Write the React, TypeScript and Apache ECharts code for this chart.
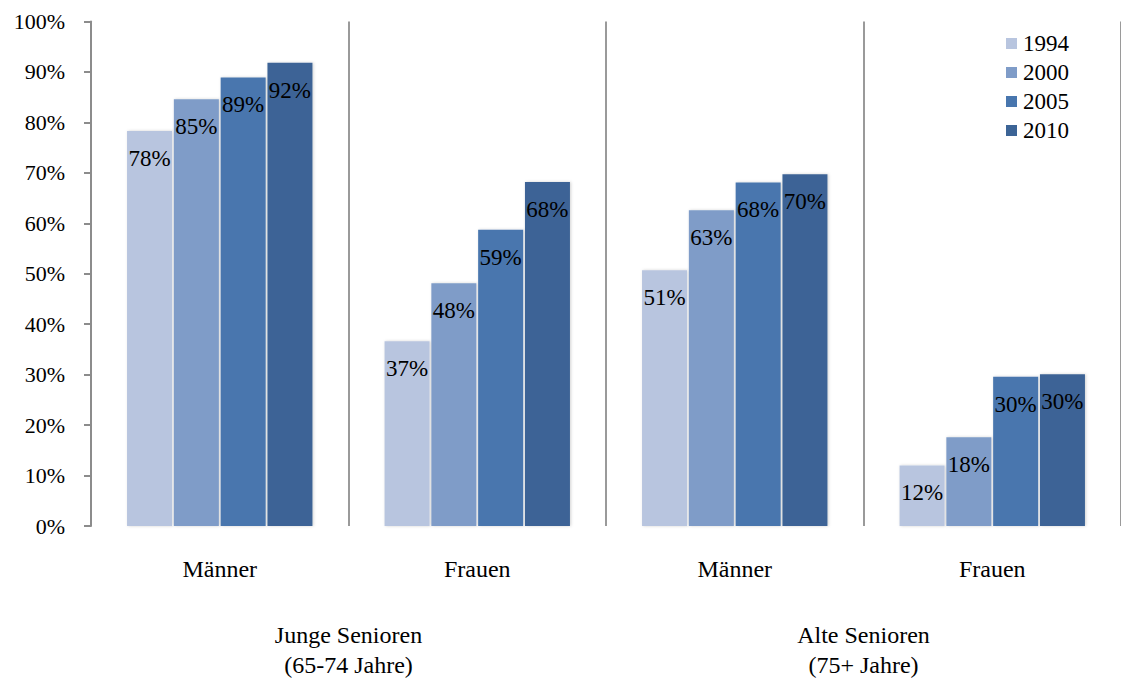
import React, { useEffect, useRef } from "react";
import * as echarts from "echarts";

// Share of seniors (in %) by age group, sex and survey year
const categories = ["Männer", "Frauen", "Männer", "Frauen"];
const groups = ["Junge Senioren\n(65-74 Jahre)", "Alte Senioren\n(75+ Jahre)"];
const years = ["1994", "2000", "2005", "2010"];

const values1994 = [78.3, 36.6, 50.7, 12.0];
const values2000 = [84.6, 48.1, 62.6, 17.6];
const values2005 = [88.9, 58.7, 68.1, 29.6];
const values2010 = [91.8, 68.2, 69.7, 30.1];

const seriesValues = [values1994, values2000, values2005, values2010];
const colors = ["#b8c5df", "#7f9cc8", "#4876ae", "#3c6496"];

const FONT = "'Liberation Serif', 'Times New Roman', serif";

export default function App() {
  const ref = useRef<HTMLDivElement>(null);

  useEffect(() => {
    if (!ref.current) return;
    document.body.style.margin = "0";
    document.body.style.overflow = "hidden";
    const chart = echarts.init(ref.current, undefined, { renderer: "svg" });

    const series = years.map((year, i) => ({
      name: year,
      type: "bar",
      xAxisIndex: 0,
      barWidth: 45,
      barGap: "4%",
      data: seriesValues[i],
      itemStyle: {
        color: colors[i],
        shadowColor: "rgba(0,0,0,0.18)",
        shadowBlur: 3,
        shadowOffsetX: 1,
        shadowOffsetY: 0,
      },
      label: {
        show: true,
        position: "insideTop",
        distance: 16,
        color: "#000",
        fontFamily: FONT,
        fontSize: 23,
        formatter: (p: any) => Math.round(p.value) + "%",
      },
    }));

    chart.setOption({
      animation: false,
      backgroundColor: "#fff",
      color: colors,
      textStyle: { fontFamily: FONT },
      grid: { left: 91, top: 21.5, width: 1036, height: 508 },
      legend: {
        orient: "vertical",
        left: 1001,
        top: 27,
        itemWidth: 11,
        itemHeight: 11,
        itemGap: 6,
        icon: "rect",
        data: years,
        textStyle: { fontFamily: FONT, fontSize: 23, color: "#000", padding: [0, 0, 0, 1] },
      },
      xAxis: [
        {
          type: "category",
          data: categories,
          axisLine: { show: false },
          axisTick: { show: false },
          splitLine: {
            show: true,
            interval: 0,
            lineStyle: { color: "#9a9a9a", width: 2 },
          },
          axisLabel: {
            color: "#000",
            fontFamily: FONT,
            fontSize: 24,
            margin: 31,
          },
        },
        {
          type: "category",
          position: "bottom",
          data: groups,
          offset: 64,
          axisLine: { show: false },
          axisTick: { show: false },
          splitLine: { show: false },
          axisLabel: {
            color: "#000",
            fontFamily: FONT,
            fontSize: 24,
            lineHeight: 30,
            margin: 30,
          },
        },
      ],
      yAxis: {
        type: "value",
        min: 0,
        max: 100,
        interval: 10,
        axisLine: { show: true, lineStyle: { color: "#8c8c8c", width: 2 } },
        axisTick: { show: true, inside: false, length: 7, lineStyle: { color: "#8c8c8c", width: 2 } },
        splitLine: { show: false },
        axisLabel: {
          color: "#000",
          fontFamily: FONT,
          fontSize: 22,
          margin: 26,
          formatter: "{value}%",
        },
      },
      series,
    });

    return () => chart.dispose();
  }, []);

  return (
    <div
      ref={ref}
      style={{ position: "fixed", left: 0, top: 0, width: 1121, height: 680, overflow: "hidden" }}
    />
  );
}
